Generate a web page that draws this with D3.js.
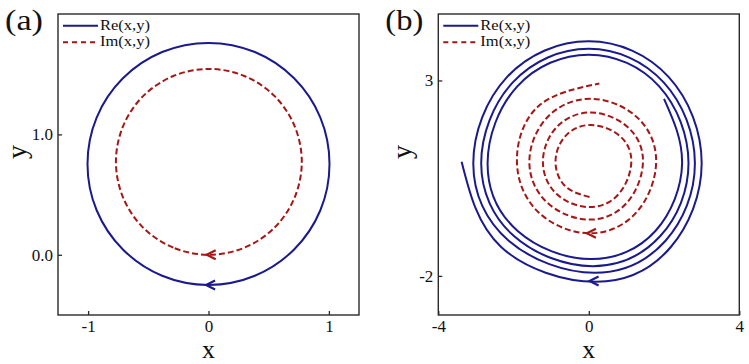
<!DOCTYPE html>
<html>
<head>
<meta charset="utf-8">
<script src="https://cdn.jsdelivr.net/npm/d3@7"></script>
<style>
  html, body { margin: 0; padding: 0; background: #fff; }
  svg { display: block; }
  text { font-family: "Liberation Serif", "Times New Roman", serif; fill: #111; }
</style>
</head>
<body>
<svg id="chart" width="749" height="364"></svg>
<script>
// ---------- DATA ----------
// Panel (a): Re(x,y) closed curve, points going clockwise from the bottom
const reA_x = [0, -0.385, -0.711, -0.929, -1.005, -0.929, -0.711, -0.385,
               0, 0.385, 0.711, 0.929, 1.005, 0.929, 0.711, 0.385];
const reA_y = [-0.25, -0.174, 0.044, 0.370, 0.755, 1.140, 1.466, 1.684,
               1.76, 1.684, 1.466, 1.140, 0.755, 0.370, 0.044, -0.174];
// Panel (a): Im(x,y) closed curve
const imA_x = [0.003, -0.292, -0.543, -0.710, -0.769, -0.710, -0.543, -0.292,
               0.003, 0.298, 0.549, 0.716, 0.775, 0.716, 0.549, 0.298];
const imA_y = [0.0, 0.059, 0.226, 0.477, 0.772, 1.067, 1.318, 1.485,
               1.544, 1.485, 1.318, 1.067, 0.772, 0.477, 0.226, 0.059];
// Panel (a) direction arrows (tip positions): [Re, Im]
const arrowA_x = [-0.02, -0.015];
const arrowA_y = [-0.25, 0.0];

// Panel (b): Re(x,y) spiral, from inner end (upper right), clockwise outward
const reB_x = [2.0, 2.48, 1.77, 0.05, -1.89, -2.69, -1.90, 0.0, 1.87,
               2.65, 1.90, 0.10, -1.99, -2.86, -2.02, 0.0, 1.99,
               2.82, 2.04, 0.15, -2.13, -3.07, -2.17, 0.0, 2.12,
               3.0, 2.18, 0.2, -2.33, -3.38];
const reB_y = [2.53, 0.88, -0.85, -1.57, -0.85, 0.88, 2.85, 3.66, 2.85,
               0.88, -0.98, -1.75, -0.98, 0.88, 2.95, 3.81, 2.95,
               0.88, -1.10, -1.92, -1.10, 0.88, 3.09, 4.0, 3.09,
               0.88, -1.26, -2.15, -1.26, 0.92];
// Panel (b): Im(x,y) spiral, from inner end (bottom), clockwise outward
const imB_x = [0.02, -0.62, -0.885, -0.61, 0.05, 0.81, 1.13, 0.80,
               0.02, -0.86, -1.22, -0.85, 0.05, 1.03, 1.44, 1.02,
               0.02, -1.11, -1.58, -1.10, 0.05, 1.28, 1.79, 1.27,
               0.02, -1.34, -1.91, -1.34, 0.28];
const imB_y = [0.02, 0.29, 0.93, 1.59, 1.86, 1.59, 0.93, 0.10,
               -0.24, 0.10, 0.93, 1.81, 2.18, 1.81, 0.93, -0.12,
               -0.56, -0.12, 0.93, 2.06, 2.53, 2.06, 0.93, -0.37,
               -0.91, -0.37, 0.93, 2.34, 2.92];
const arrowB_x = [0.02, -0.05];
const arrowB_y = [-2.13, -0.91];

// Axes / ticks
const xDomainA = [-1.25, 1.25], yDomainA = [-0.5, 2.0];
const xDomainB = [-4, 4],       yDomainB = [-3, 4.7];
const xTicksA = [-1, 0, 1], yTicksA = [0, 1];
const xTickLabelsA = ["-1", "0", "1"], yTickLabelsA = ["0.0", "1.0"];
const xTicksB = [-4, 0, 4], yTicksB = [-2, 3];
const xTickLabelsB = ["-4", "0", "4"], yTickLabelsB = ["-2", "3"];
const seriesNames = ["Re(x,y)", "Im(x,y)"];
const panelLabels = ["(a)", "(b)"];

// ---------- STYLE ----------
const BLUE = "#1a1a8e";
const RED = "#a51616";
const FRAME = "#2a2a2a";

const svg = d3.select("#chart");

function drawPanel(cfg) {
  const { left, top, size, xDomain, yDomain, xTicks, yTicks, xLabels, yLabels,
          re, im, arrows, closed, label, yLabelX } = cfg;
  const x = d3.scaleLinear().domain(xDomain).range([left, left + size]);
  const y = d3.scaleLinear().domain(yDomain).range([top + size, top]);

  const g = svg.append("g");

  // axes
  const xAxis = d3.axisBottom(x).tickValues(xTicks)
    .tickFormat((d, i) => xLabels[i]).tickSizeInner(-4).tickSizeOuter(0).tickPadding(5);
  const yAxis = d3.axisLeft(y).tickValues(yTicks)
    .tickFormat((d, i) => yLabels[i]).tickSizeInner(-4).tickSizeOuter(0).tickPadding(5);

  const gx = g.append("g").attr("transform", `translate(0,${top + size})`).call(xAxis);
  const gy = g.append("g").attr("transform", `translate(${left},0)`).call(yAxis);
  [gx, gy].forEach(a => {
    a.select(".domain").remove();
    a.selectAll(".tick line").attr("stroke", FRAME).attr("stroke-width", 1.3);
    a.selectAll(".tick text").attr("fill", "#111")
      .style("font-family", '"Liberation Serif", serif').style("font-size", "17px");
  });

  // frame
  g.append("rect").attr("x", left).attr("y", top).attr("width", size).attr("height", size)
    .attr("fill", "none").attr("stroke", FRAME).attr("stroke-width", 1.4);

  // curves
  const curve = closed ? d3.curveCatmullRomClosed.alpha(0.5) : d3.curveNatural;
  const line = d3.line().x(d => x(d[0])).y(d => y(d[1])).curve(curve);
  const reData = re[0].map((v, i) => [v, re[1][i]]);
  const imData = im[0].map((v, i) => [v, im[1][i]]);

  g.append("path").attr("d", line(reData)).attr("fill", "none")
    .attr("stroke", BLUE).attr("stroke-width", 2);
  g.append("path").attr("d", line(imData)).attr("fill", "none")
    .attr("stroke", RED).attr("stroke-width", 2).attr("stroke-dasharray", "6,3");

  // arrows
  const colors = [BLUE, RED];
  arrows[0].forEach((ax, i) => {
    g.append("path")
      .attr("transform", `translate(${x(ax)},${y(arrows[1][i])})`)
      .attr("d", "M9,-4.5 L0,0 L9,4.5")
      .attr("fill", "none").attr("stroke", colors[i]).attr("stroke-width", 2.2)
      .attr("stroke-linejoin", "miter");
  });

  // legend
  const lg = g.append("g");
  const legendY = [top + 11.7, top + 28.3];
  seriesNames.forEach((name, i) => {
    lg.append("line").attr("x1", left + 5).attr("x2", left + 40)
      .attr("y1", legendY[i]).attr("y2", legendY[i])
      .attr("stroke", colors[i]).attr("stroke-width", 2)
      .attr("stroke-dasharray", i === 1 ? "5,4" : null);
    lg.append("text").attr("x", left + 42).attr("y", legendY[i] + 4)
      .attr("textLength", 50).attr("lengthAdjust", "spacingAndGlyphs")
      .style("font-size", "14.5px").text(name);
  });

  // panel label
  g.append("text").attr("x", left - 53).attr("y", 30)
    .attr("textLength", 38).attr("lengthAdjust", "spacingAndGlyphs")
    .style("font-size", "30px").text(label);

  // axis labels
  g.append("text").attr("x", left + size / 2).attr("y", 357.5)
    .attr("text-anchor", "middle").style("font-size", "26px").text("x");
  g.append("text").attr("transform", `translate(${yLabelX},152) rotate(-90)`)
    .attr("text-anchor", "middle").style("font-size", "28px").text("y");
}

drawPanel({
  left: 58, top: 14, size: 301,
  xDomain: xDomainA, yDomain: yDomainA, xTicks: xTicksA, yTicks: yTicksA,
  xLabels: xTickLabelsA, yLabels: yTickLabelsA,
  re: [reA_x, reA_y], im: [imA_x, imA_y], arrows: [arrowA_x, arrowA_y],
  closed: true, label: panelLabels[0], yLabelX: 26
});

drawPanel({
  left: 438.3, top: 14, size: 301,
  xDomain: xDomainB, yDomain: yDomainB, xTicks: xTicksB, yTicks: yTicksB,
  xLabels: xTickLabelsB, yLabels: yTickLabelsB,
  re: [reB_x, reB_y], im: [imB_x, imB_y], arrows: [arrowB_x, arrowB_y],
  closed: false, label: panelLabels[1], yLabelX: 411
});
</script>
</body>
</html>
